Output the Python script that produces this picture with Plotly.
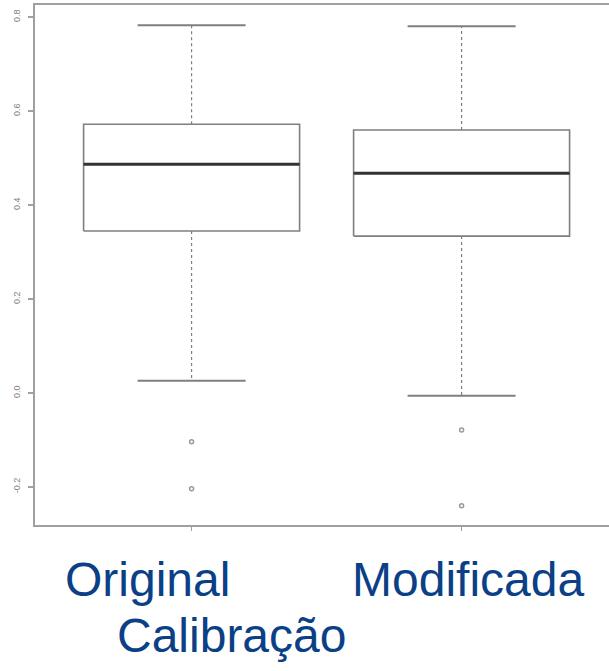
import plotly.graph_objects as go

# Box-plot summary statistics for the two calibrations
categories = ["Original", "Modificada"]
positions = [1, 2]
upper_whisker = [0.783, 0.781]
q3 = [0.572, 0.560]
median = [0.487, 0.468]
q1 = [0.345, 0.334]
lower_whisker = [0.026, -0.006]
outliers = [[-0.104, -0.204], [-0.079, -0.240]]

y_ticks = [-0.2, 0.0, 0.2, 0.4, 0.6, 0.8]
y_tick_text = ["-0.2", "0.0", "0.2", "0.4", "0.6", "0.8"]

half_box = 0.4
half_cap = 0.2

box_color = "#7f7f7f"
median_color = "#333333"
frame_color = "#a0a0a0"
label_color = "#0b3f86"

fig = go.Figure()

for i, pos in enumerate(positions):
    # box body
    fig.add_trace(go.Scatter(
        x=[pos - half_box, pos + half_box, pos + half_box, pos - half_box, pos - half_box],
        y=[q1[i], q1[i], q3[i], q3[i], q1[i]],
        mode="lines", line=dict(color=box_color, width=1.6),
        hoverinfo="skip", showlegend=False))
    # median
    fig.add_trace(go.Scatter(
        x=[pos - half_box, pos + half_box], y=[median[i], median[i]],
        mode="lines", line=dict(color=median_color, width=3),
        hoverinfo="skip", showlegend=False))
    # dotted whiskers
    fig.add_trace(go.Scatter(
        x=[pos, pos, None, pos, pos],
        y=[q3[i], upper_whisker[i], None, q1[i], lower_whisker[i]],
        mode="lines", line=dict(color=box_color, width=1.2, dash="dot"),
        hoverinfo="skip", showlegend=False))
    # whisker caps
    fig.add_trace(go.Scatter(
        x=[pos - half_cap, pos + half_cap, None, pos - half_cap, pos + half_cap],
        y=[upper_whisker[i], upper_whisker[i], None, lower_whisker[i], lower_whisker[i]],
        mode="lines", line=dict(color=box_color, width=2),
        hoverinfo="skip", showlegend=False))
    # outliers
    fig.add_trace(go.Scatter(
        x=[pos] * len(outliers[i]), y=outliers[i],
        mode="markers",
        marker=dict(symbol="circle-open", size=4, color="#9a9a9a", line=dict(width=1.5)),
        hoverinfo="skip", showlegend=False))

fig.update_layout(
    width=609, height=671,
    margin=dict(l=35, r=0, t=5, b=146),
    paper_bgcolor="white", plot_bgcolor="white",
    xaxis=dict(
        range=[0.42, 2.546], showgrid=False, zeroline=False,
        showline=True, linecolor=frame_color, linewidth=2, mirror=True,
        tickmode="array", tickvals=positions, ticktext=["", ""],
        ticks="outside", ticklen=4, tickcolor=frame_color, tickwidth=1),
    yaxis=dict(
        range=[-0.281, 0.826], showgrid=False, zeroline=False,
        showline=True, linecolor=frame_color, linewidth=2,
        tickmode="array", tickvals=y_ticks, ticktext=y_tick_text,
        ticks="outside", ticklen=5, tickcolor=frame_color, tickwidth=1.5,
        ticklabelstandoff=4,
        tickangle=-90, tickfont=dict(family="Liberation Sans", size=9, color="#808080")),
)

label_font = dict(family="Liberation Sans", size=48, color=label_color)
fig.add_annotation(text=categories[0], xref="paper", yref="paper",
                   x=(63 - 35) / 574, y=(525 - 579) / 520,
                   xanchor="left", yanchor="middle", showarrow=False, font=label_font)
fig.add_annotation(text=categories[1], xref="paper", yref="paper",
                   x=(350 - 35) / 574, y=(525 - 579) / 520,
                   xanchor="left", yanchor="middle", showarrow=False, font=label_font)
fig.add_annotation(text="Calibração", xref="paper", yref="paper",
                   x=(115 - 35) / 574, y=(525 - 635) / 520,
                   xanchor="left", yanchor="middle", showarrow=False, font=label_font)

fig.write_html("out.html")
